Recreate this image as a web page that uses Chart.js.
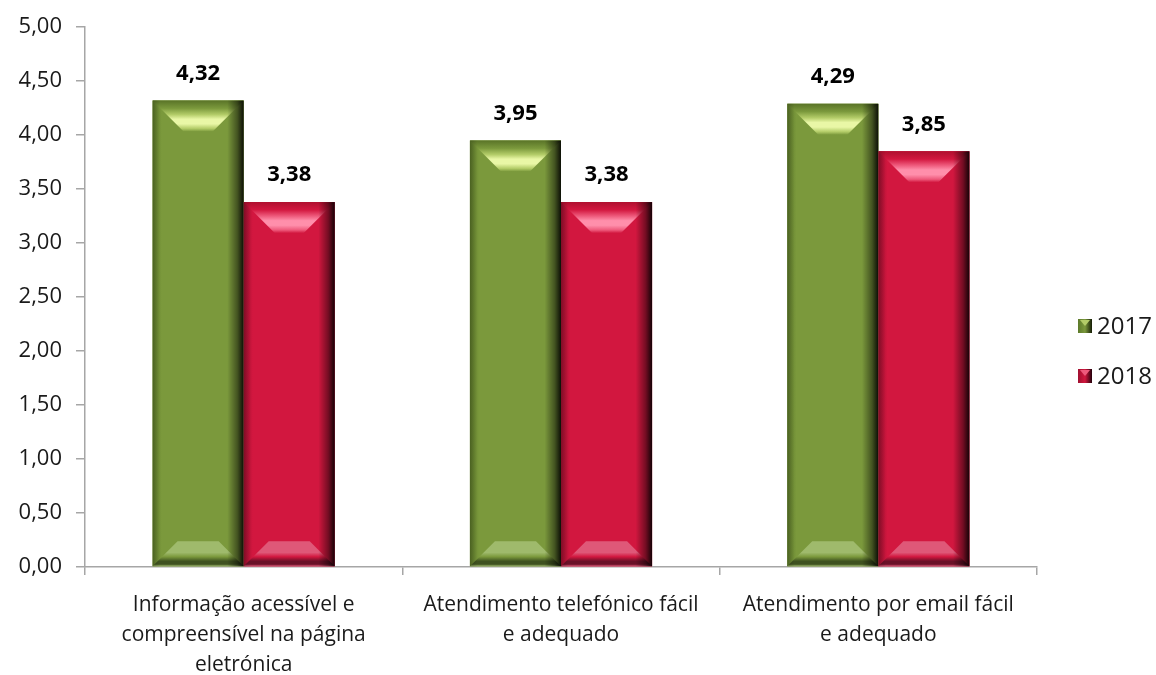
<!DOCTYPE html>
<html>
<head>
<meta charset="utf-8">
<script src="https://cdn.jsdelivr.net/npm/chart.js@4.4.1/dist/chart.umd.min.js"></script>
<style>
  html, body { margin: 0; padding: 0; background: #ffffff; }
  #wrap { width: 1156px; height: 675px; position: relative; }
</style>
</head>
<body>
<div id="wrap"><canvas id="chart" width="1156" height="675"></canvas></div>
<script>
// Categories (multi-line axis labels)
const categories = [
  ["Informação acessível e", "compreensível na página", "eletrónica"],
  ["Atendimento telefónico fácil", "e adequado"],
  ["Atendimento por email fácil", "e adequado"]
];
const seriesNames = ["2017", "2018"];
const values2017 = [4.32, 3.95, 4.29];
const values2018 = [3.38, 3.38, 3.85];
const yTicks = [0, 0.5, 1, 1.5, 2, 2.5, 3, 3.5, 4, 4.5, 5];

// Palette for each series
const palette = [
  { body: "#7b993c", top: "#5a7428", light: "#e9f7a6", mid: "#b3cc68", edge: "#5d7a2a", dark: "#141c04",
    low: "#3f5220", lowLight: "#9fba6c" },
  { body: "#d2173f", top: "#b0102f", light: "#ff8fab", mid: "#ee5a7c", edge: "#a01030", dark: "#22000a",
    low: "#6a1128", lowLight: "#df5878" }
];

const FONT = "'Open Sans', 'Liberation Sans', sans-serif";
const fmt = v => v.toFixed(2).replace(".", ",");

// Bevelled look for every bar, drawn on top of the plain bar fill
const bevelPlugin = {
  id: "bevel",
  afterDatasetsDraw(chart) {
    const ctx = chart.ctx;
    chart.data.datasets.forEach((ds, di) => {
      const meta = chart.getDatasetMeta(di);
      const pal = palette[di];
      meta.data.forEach(bar => {
        const p = bar.getProps(["x", "y", "base", "width"], true);
        const l = p.x - p.width / 2, r = p.x + p.width / 2;
        const t = p.y, b = p.base, h = b - t;
        const bt = Math.min(31, h / 2), bb = Math.min(25, h / 2);
        ctx.save();
        // body
        let g = ctx.createLinearGradient(l, 0, r, 0);
        g.addColorStop(0, pal.edge);
        g.addColorStop(0.1, pal.body);
        g.addColorStop(1, pal.body);
        ctx.fillStyle = g;
        ctx.fillRect(l, t, r - l, h);
        // top bevel
        g = ctx.createLinearGradient(0, t, 0, t + bt);
        g.addColorStop(0, pal.top);
        g.addColorStop(0.25, pal.body);
        g.addColorStop(0.45, pal.mid);
        g.addColorStop(0.6, pal.light);
        g.addColorStop(0.75, pal.light);
        g.addColorStop(0.9, pal.mid);
        g.addColorStop(1, pal.body);
        ctx.fillStyle = g;
        ctx.beginPath();
        ctx.moveTo(l, t); ctx.lineTo(r, t);
        ctx.lineTo(r - bt, t + bt); ctx.lineTo(l + bt, t + bt);
        ctx.closePath(); ctx.fill();
        // bottom bevel
        g = ctx.createLinearGradient(0, b - bb, 0, b);
        g.addColorStop(0, pal.lowLight);
        g.addColorStop(0.45, pal.lowLight);
        g.addColorStop(0.62, pal.body);
        g.addColorStop(0.8, pal.low);
        g.addColorStop(0.92, pal.low);
        g.addColorStop(1, pal.lowLight);
        ctx.fillStyle = g;
        ctx.beginPath();
        ctx.moveTo(l + bb, b - bb); ctx.lineTo(r - bb, b - bb);
        ctx.lineTo(r, b); ctx.lineTo(l, b);
        ctx.closePath(); ctx.fill();
        // side shading across the whole height
        g = ctx.createLinearGradient(l, 0, r, 0);
        g.addColorStop(0, "rgba(0,0,0,0.2)");
        g.addColorStop(0.08, "rgba(0,0,0,0)");
        g.addColorStop(0.82, "rgba(0,0,0,0)");
        g.addColorStop(0.93, "rgba(0,0,0,0.45)");
        g.addColorStop(1, "rgba(0,0,0,0.9)");
        ctx.fillStyle = g;
        ctx.fillRect(l, t, r - l, h);
        ctx.restore();
      });
    });
  }
};

// Value labels above the bars
const valueLabels = {
  id: "valueLabels",
  afterDatasetsDraw(chart) {
    const ctx = chart.ctx;
    ctx.save();
    ctx.font = "bold 22px " + FONT;
    ctx.fillStyle = "#000";
    ctx.textAlign = "center";
    ctx.textBaseline = "middle";
    chart.data.datasets.forEach((ds, di) => {
      chart.getDatasetMeta(di).data.forEach((bar, i) => {
        const p = bar.getProps(["x", "y"], true);
        ctx.fillText(fmt(ds.data[i]), p.x, p.y - 27);
      });
    });
    ctx.restore();
  }
};

// Legend at the right side
const sideLegend = {
  id: "sideLegend",
  afterDraw(chart) {
    const ctx = chart.ctx;
    ctx.save();
    chart.data.datasets.forEach((ds, di) => {
      const pal = palette[di];
      const cy = 326 + di * 50;
      const x0 = 1078, s = 14;
      let g = ctx.createLinearGradient(x0, 0, x0 + s, 0);
      g.addColorStop(0, pal.edge);
      g.addColorStop(0.5, pal.body);
      g.addColorStop(1, pal.dark);
      ctx.fillStyle = g;
      ctx.fillRect(x0, cy - s / 2, s, s);
      ctx.fillStyle = pal.mid;
      ctx.beginPath();
      ctx.moveTo(x0 + 2, cy - s / 2 + 1); ctx.lineTo(x0 + s / 2, cy); ctx.lineTo(x0 + s - 2, cy - s / 2 + 1);
      ctx.closePath(); ctx.fill();
      ctx.fillStyle = "#1a1a1a";
      ctx.font = "24px " + FONT;
      ctx.textAlign = "left";
      ctx.textBaseline = "middle";
      ctx.fillText(ds.label, 1097, cy + 1);
    });
    ctx.restore();
  }
};

new Chart(document.getElementById("chart"), {
  type: "bar",
  data: {
    labels: categories,
    datasets: [
      { label: seriesNames[0], data: values2017, backgroundColor: palette[0].body },
      { label: seriesNames[1], data: values2018, backgroundColor: palette[1].body }
    ]
  },
  options: {
    responsive: false,
    animation: false,
    events: [],
    layout: { padding: { top: 24, right: 119, left: 0, bottom: 0 } },
    datasets: { bar: { categoryPercentage: 0.574, barPercentage: 1 } },
    plugins: { legend: { display: false }, tooltip: { enabled: false } },
    scales: {
      x: {
        grid: { drawOnChartArea: false, drawTicks: true, tickLength: 8, color: "#a6a6a6", lineWidth: 1.5 },
        border: { color: "#a6a6a6", width: 1.5 },
        ticks: { color: "#1a1a1a", font: { family: FONT, size: 21, lineHeight: 1.42 }, padding: 15, maxRotation: 0 },
        afterFit(scale) { scale.height = 108; }
      },
      y: {
        min: 0, max: 5,
        afterBuildTicks(scale) { scale.ticks = yTicks.map(v => ({ value: v })); },
        grid: { drawOnChartArea: false, drawTicks: true, tickLength: 9, color: "#a6a6a6", lineWidth: 1.5 },
        border: { color: "#a6a6a6", width: 1.5 },
        ticks: { color: "#1a1a1a", font: { family: FONT, size: 22 }, padding: 14, callback: v => fmt(v) },
        afterFit(scale) { scale.width = 85; }
      }
    }
  },
  plugins: [bevelPlugin, valueLabels, sideLegend]
});
</script>
</body>
</html>
